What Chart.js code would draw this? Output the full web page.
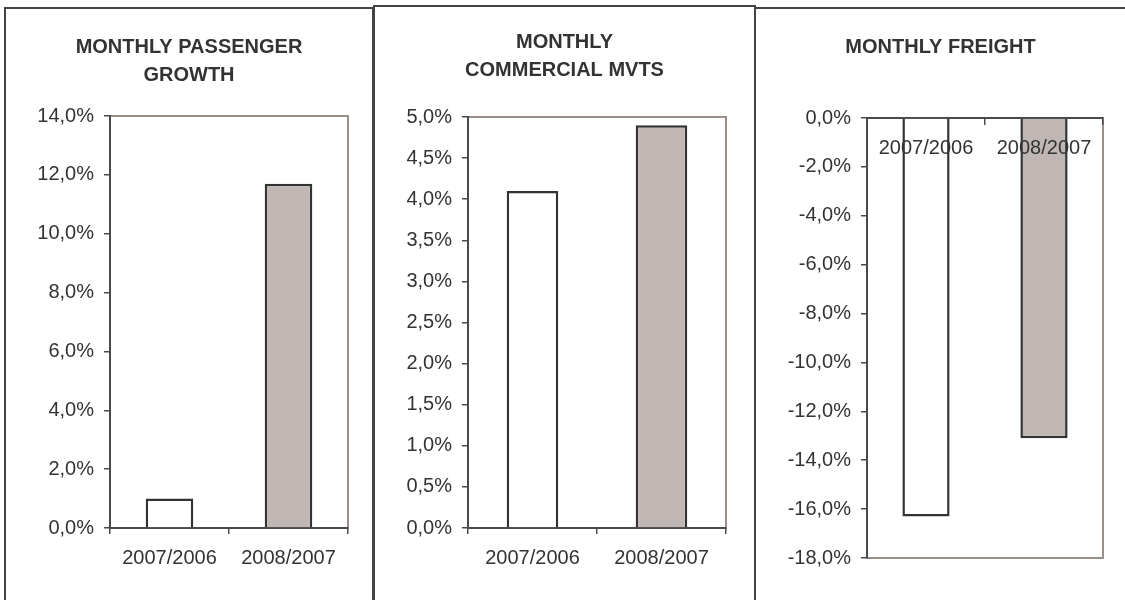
<!DOCTYPE html>
<html>
<head>
<meta charset="utf-8">
<script src="https://cdn.jsdelivr.net/npm/chart.js@4.4.1/dist/chart.umd.min.js"></script>
<style>
  body { margin: 0; background: #fff; width: 1125px; height: 600px; overflow: hidden; position: relative; }
  .panel { position: absolute; box-sizing: border-box; border: 2px solid #444; height: 620px; }
  .box { position: absolute; }
</style>
</head>
<body>
<div class="panel" style="left:4px;top:7px;width:370px"></div>
<div class="panel" style="left:373px;top:5px;width:383px"></div>
<div class="panel" style="left:754px;top:7px;width:400px"></div>

<div class="box" style="left:6px;top:9px;width:366px;height:591px"><canvas id="passengers"></canvas></div>
<div class="box" style="left:375px;top:7px;width:379px;height:593px"><canvas id="movements"></canvas></div>
<div class="box" style="left:756px;top:9px;width:369px;height:591px"><canvas id="freight"></canvas></div>

<script>
const categories = ['2007/2006', '2008/2007'];
const passengerGrowth = [1.0, 11.7];
const commercialMvts = [4.1, 4.9];
const freightGrowth = [-16.3, -13.1];

const barFill = ['#ffffff', '#c0b7b4'];

Chart.defaults.font.family = '"Liberation Sans", Arial, sans-serif';
Chart.defaults.font.size = 20;
Chart.defaults.color = '#333';

// brownish frame round the plot area, axes get drawn over it
const plotFrame = {
  id: 'plotFrame',
  beforeDraw(chart) {
    const {ctx, chartArea: a} = chart;
    ctx.save();
    ctx.strokeStyle = '#9b8f8c';
    ctx.lineWidth = 2;
    ctx.strokeRect(a.left, a.top, a.right - a.left, a.bottom - a.top);
    ctx.restore();
  }
};

function pct(v) {
  return v.toFixed(1).replace('.', ',') + '%';
}

function makeChart(id, title, values, o) {
  const xScale = {
    offset: true,
    grid: { offset: true, drawOnChartArea: false, tickLength: 6, color: '#4a4a4a', lineWidth: 1.5 },
    border: { color: '#4a4a4a', width: 2 },
    ticks: { padding: o.xPad, color: '#333', z: 1, maxRotation: 0 }
  };
  if (o.xAtZero) xScale.position = { y: 0 };

  return new Chart(document.getElementById(id), {
    type: 'bar',
    data: {
      labels: categories,
      datasets: [{
        data: values,
        backgroundColor: barFill,
        borderColor: '#333',
        borderWidth: 2.5,
        barPercentage: 0.4,
        categoryPercentage: 1
      }]
    },
    options: {
      responsive: true,
      maintainAspectRatio: false,
      animation: false,
      layout: { padding: { left: 0, right: 0, bottom: o.bottom, top: 0 } },
      plugins: {
        legend: { display: false },
        tooltip: { enabled: false },
        title: {
          display: true,
          text: title,
          color: '#333',
          font: { size: 20, weight: 'bold', lineHeight: 1.4 },
          padding: { top: o.titleTop, bottom: o.titleBottom }
        }
      },
      scales: {
        x: xScale,
        y: {
          min: o.min,
          max: o.max,
          afterFit: s => { s.width = o.yWidth; },
          grid: { drawOnChartArea: false, tickLength: 6, color: '#4a4a4a', lineWidth: 1.5 },
          border: { color: '#4a4a4a', width: 2 },
          ticks: { stepSize: o.step, padding: 10, color: '#333', autoSkip: false, callback: pct }
        },
        // empty axis on the right, only keeps space so the title stays centred on the panel
        spacer: {
          type: 'linear',
          position: 'right',
          grid: { display: false },
          border: { display: false },
          ticks: { display: false },
          afterFit: s => { s.width = o.right; }
        }
      }
    },
    plugins: [plotFrame]
  });
}

makeChart('passengers', ['MONTHLY PASSENGER', 'GROWTH'], passengerGrowth,
  { min: 0, max: 14, step: 2, yWidth: 104, right: 24, bottom: 18, titleTop: 24, titleBottom: 27, xPad: 12 });

makeChart('movements', ['MONTHLY', 'COMMERCIAL MVTS'], commercialMvts,
  { min: 0, max: 5, step: 0.5, yWidth: 93, right: 28, bottom: 18, titleTop: 21, titleBottom: 33, xPad: 12 });

makeChart('freight', 'MONTHLY FREIGHT', freightGrowth,
  { min: -18, max: 0, step: 2, yWidth: 111, right: 22, bottom: 42, titleTop: 24, titleBottom: 57, xPad: 12, xAtZero: true });
</script>
</body>
</html>
